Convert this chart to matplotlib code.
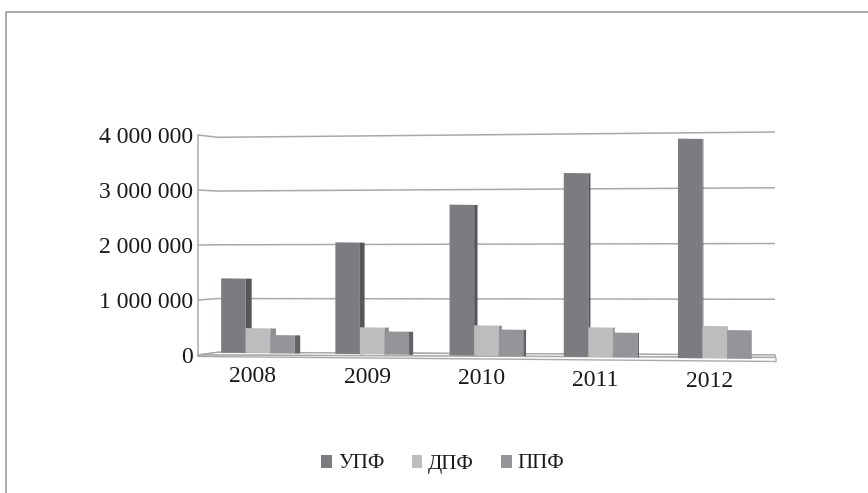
import matplotlib
matplotlib.use('Agg')
import matplotlib.pyplot as plt
import matplotlib.transforms as mtransforms
from matplotlib.lines import Line2D
from matplotlib.patches import Patch, Polygon, Rectangle
import numpy as np

years = ['2008', '2009', '2010', '2011', '2012']
upf = [1350000, 2030000, 2740000, 3340000, 3990000]
dpf = [450000, 490000, 550000, 540000, 590000]
ppf = [330000, 420000, 480000, 450000, 520000]
series_names = ['УПФ', 'ДПФ', 'ППФ']
value_ticks = [0, 1000000, 2000000, 3000000, 4000000]

plt.rcParams['font.family'] = ['Liberation Serif', 'DejaVu Serif']

front_colors = ['#7b7c80', '#bdbdbf', '#949598']
side_colors = ['#55565a', '#8c8c8e', '#626366']
grid_color = '#a9a9a9'

W, H = 868, 493
fig = plt.figure(figsize=(W / 100, H / 100), dpi=100)
ax = fig.add_axes([198 / W, (H - 362) / H, (776 - 198) / W, (362 - 125) / H])
x_lo, x_hi = -0.5254, 4.5359
ax.set_xlim(x_lo, x_hi)
ax.set_ylim(-127273, 4181818)

# slight tilt of the floor: bars sink a little towards the right
skew = mtransforms.Affine2D(np.array([[1.0, 0.0, 0.0],
                                      [-25000.0, 1.0, 36000.0],
                                      [0.0, 0.0, 1.0]])) + ax.transData

# back wall with its gridlines (perspective: left end lower, right end taller)
wall_x0, wall_x1 = -0.350, 4.527
for v in value_ticks:
    ax.plot([x_lo, wall_x0, wall_x1], [v, 49000 + 0.9773 * v, 1.0136 * v],
            color=grid_color, lw=1.1, zorder=1, solid_capstyle='butt')

# floor plate
ax.add_patch(Polygon([(x_lo, 0), (wall_x0, 49000), (wall_x1, 0), (x_hi, -45000)],
                     closed=True, facecolor='white', edgecolor=grid_color,
                     lw=1.0, zorder=1.5))
ax.add_patch(Polygon([(x_lo, 0), (x_hi, -45000), (x_hi, -118000), (x_lo, -27000)],
                     closed=True, facecolor='white', edgecolor=grid_color,
                     lw=1.0, zorder=1.5, clip_on=False))

width = 0.215
x = np.arange(len(years))
for j, vals in enumerate([upf, dpf, ppf]):
    bars = ax.bar(x + (j - 1) * width, vals, width, color=front_colors[j],
                  transform=skew, zorder=3 + 2 * j, linewidth=0)
    for rect in bars:
        xr = rect.get_x() + rect.get_width()
        depth = 0.0112 * (x_hi - xr)
        ax.add_patch(Rectangle((xr, 0), depth, rect.get_height(),
                               facecolor=side_colors[j], linewidth=0,
                               transform=skew, zorder=2 + 2 * j))

for i, yr in enumerate(years):
    ax.text(i - 0.045, -420000, yr, transform=skew, ha='center', va='center',
            fontsize=17, color='#1a1a1a', clip_on=False)

for name in ['top', 'right', 'bottom']:
    ax.spines[name].set_visible(False)
ax.spines['left'].set_bounds(0, 4000000)
ax.spines['left'].set_color(grid_color)
ax.spines['left'].set_linewidth(1.1)
ax.set_xticks([])
ax.set_yticks(value_ticks, [f'{v:,}'.replace(',', ' ') for v in value_ticks])
ax.tick_params(axis='y', length=0, pad=3.6, labelsize=17, labelcolor='#1a1a1a')
ax.patch.set_visible(False)

handles = [Patch(facecolor=c, edgecolor='none') for c in front_colors]
fig.legend(handles, series_names, loc='center', bbox_to_anchor=(443 / W, 1 - 464 / H),
           ncol=3, frameon=False, fontsize=15, handlelength=0.5, handleheight=0.6,
           handletextpad=0.3, columnspacing=1.3, labelcolor='#1a1a1a')

# outer chart frame, open on the right and bottom
fig.add_artist(Line2D([6 / W, 6 / W, 1.0], [0.0, 1 - 12 / H, 1 - 12 / H],
                      transform=fig.transFigure, color='#9c9c9c', lw=1.2))

fig.savefig('out.png', dpi=100)
plt.close(fig)
